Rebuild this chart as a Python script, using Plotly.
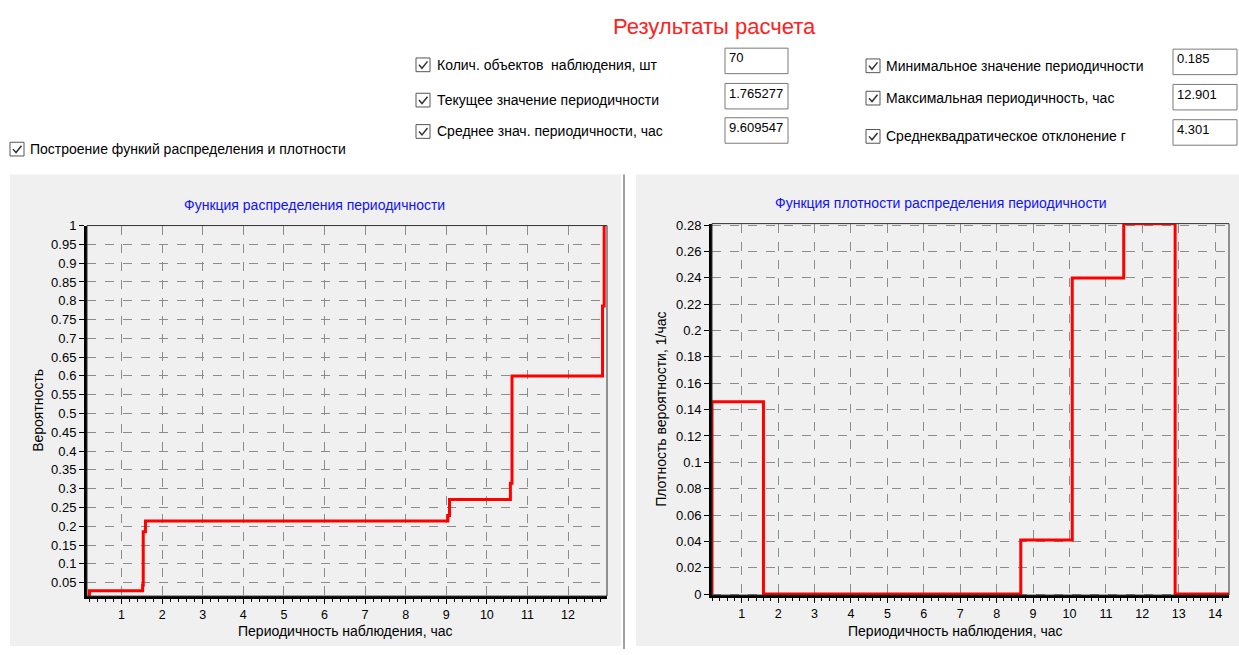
import plotly.graph_objects as go

W, H = 1239, 655

# Empirical distribution function (step points)
cdf_x = [0.185, 0.21, 1.52, 1.535, 1.59, 9.04, 9.08, 10.58, 10.62, 12.85, 12.89, 12.901]
cdf_y = [0.0143, 0.0286, 0.0429, 0.1857, 0.2143, 0.2286, 0.2714, 0.3143, 0.6, 0.7857, 1.0, 1.0]

# Histogram density (bin edges and heights)
bin_edges = [0.185, 1.598, 3.011, 4.424, 5.837, 7.250, 8.663, 10.076, 11.489, 12.901, 14.38]
density = [0.146, 0.0, 0.0, 0.0, 0.0, 0.0, 0.041, 0.240, 0.281, 0.0]

cdf_yticks = [0.05, 0.1, 0.15, 0.2, 0.25, 0.3, 0.35, 0.4, 0.45, 0.5, 0.55, 0.6, 0.65,
              0.7, 0.75, 0.8, 0.85, 0.9, 0.95, 1.0]
cdf_yticklabels = ["0.05", "0.1", "0.15", "0.2", "0.25", "0.3", "0.35", "0.4", "0.45", "0.5",
                   "0.55", "0.6", "0.65", "0.7", "0.75", "0.8", "0.85", "0.9", "0.95", "1"]
pdf_yticks = [0, 0.02, 0.04, 0.06, 0.08, 0.1, 0.12, 0.14, 0.16, 0.18, 0.2, 0.22, 0.24, 0.26, 0.28]
pdf_yticklabels = ["0", "0.02", "0.04", "0.06", "0.08", "0.1", "0.12", "0.14", "0.16", "0.18",
                   "0.2", "0.22", "0.24", "0.26", "0.28"]
cdf_xticks = list(range(1, 13))
pdf_xticks = list(range(1, 15))

# Summary fields: (label, value)
left_fields = [("Колич. объектов  наблюдения, шт", "70"),
               ("Текущее значение периодичности", "1.765277"),
               ("Среднее знач. периодичности, час", "9.609547")]
right_fields = [("Минимальное значение периодичности", "0.185"),
                ("Максимальная периодичность, час", "12.901"),
                ("Среднеквадратическое отклонение г", "4.301")]


def px(x):
    return x / W


def py(y):
    return 1 - y / H


FONT = "Liberation Sans, Arial, sans-serif"

# density as a closed step outline starting from zero
pdf_x = [bin_edges[0]] + bin_edges
pdf_y = [0.0] + density + [0.0]

fig = go.Figure()
fig.add_trace(go.Scatter(x=cdf_x, y=cdf_y, mode="lines", line=dict(color="#FF0000", width=3, shape="hv"),
                         xaxis="x", yaxis="y", showlegend=False, hoverinfo="x+y"))
fig.add_trace(go.Scatter(x=pdf_x, y=pdf_y, mode="lines", line=dict(color="#FF0000", width=3, shape="hv"),
                         xaxis="x2", yaxis="y2", showlegend=False, hoverinfo="x+y"))

# plot areas in pixels
L = dict(x0=87, x1=607, y0=223, y1=601)
R = dict(x0=712, x1=1229, y0=221, y1=600)

axis_common = dict(showgrid=True, gridcolor="#8C8C8C", griddash="dash", gridwidth=1,
                   showline=True, linecolor="black", linewidth=3, ticks="outside",
                   ticklen=5, tickcolor="black", zeroline=False)
yfont = dict(family=FONT, size=13, color="black")
xfont = dict(family=FONT, size=12.5, color="black")
xminor = dict(ticks="outside", ticklen=3, tickcolor="black", dtick=0.2, showgrid=False)

fig.update_layout(
    width=W, height=H, autosize=False,
    margin=dict(l=0, r=0, t=0, b=0),
    paper_bgcolor="white", plot_bgcolor="#F0F0F0",
    font=dict(family=FONT, size=13, color="black"),
    xaxis=dict(domain=[px(L["x0"]), px(L["x1"])], range=[0.15, 12.96], anchor="y",
               tickvals=cdf_xticks, minor=xminor, tickfont=xfont, **axis_common),
    yaxis=dict(domain=[py(L["y1"]), py(L["y0"])], range=[0.0143, 1.0], anchor="x",
               tickvals=cdf_yticks, ticktext=cdf_yticklabels, tickfont=yfont, **axis_common),
    xaxis2=dict(domain=[px(R["x0"]), px(R["x1"])], range=[0.185, 14.38], anchor="y2",
                tickvals=pdf_xticks, minor=xminor, tickfont=xfont, **axis_common),
    yaxis2=dict(domain=[py(R["y1"]), py(R["y0"])], range=[-0.0008, 0.2812], anchor="x2",
                tickvals=pdf_yticks, ticktext=pdf_yticklabels, tickfont=yfont, **axis_common),
)

shapes = []
annotations = []

# chart panels
shapes.append(dict(type="rect", xref="paper", yref="paper", x0=px(10), x1=px(621), y0=py(652), y1=py(171),
                   fillcolor="#F0F0F0", line=dict(width=0), layer="below"))
shapes.append(dict(type="rect", xref="paper", yref="paper", x0=px(636), x1=px(1239), y0=py(652), y1=py(171),
                   fillcolor="#F0F0F0", line=dict(width=0), layer="below"))
shapes.append(dict(type="line", xref="paper", yref="paper", x0=px(624), x1=px(624), y0=py(655), y1=py(171),
                   line=dict(color="#A0A0A0", width=2)))

# thin frame on top/right of each plot
for P in (L, R):
    shapes.append(dict(type="rect", xref="paper", yref="paper", x0=px(P["x0"]), x1=px(P["x1"]),
                       y0=py(P["y1"]), y1=py(P["y0"]), line=dict(color="#303030", width=1)))


def checkbox(x, y):
    shapes.append(dict(type="rect", xref="paper", yref="paper", x0=px(x), x1=px(x + 14),
                       y0=py(y + 14), y1=py(y), fillcolor="white", line=dict(color="#555555", width=1)))
    path = "M {},{} L {},{} L {},{}".format(px(x + 3), py(y + 7), px(x + 6), py(y + 10.5),
                                            px(x + 11.5), py(y + 3.5))
    shapes.append(dict(type="path", xref="paper", yref="paper", path=path,
                       line=dict(color="#333333", width=1.5)))


def text(x, y, s, size=14, color="black", xanchor="left", angle=0):
    annotations.append(dict(x=px(x), y=py(y), xref="paper", yref="paper", text=s, showarrow=False,
                            xanchor=xanchor, yanchor="middle", textangle=angle, borderpad=0,
                            font=dict(family=FONT, size=size, color=color)))


def textbox(x0, y0, x1, y1, s):
    shapes.append(dict(type="rect", xref="paper", yref="paper", x0=px(x0), x1=px(x1), y0=py(y1), y1=py(y0),
                       fillcolor="white", line=dict(color="#7A7A7A", width=1)))
    text(x0 + 3, y0 + 10, s, size=13)


# header
text(714, 20, "Результаты расчета", size=22, color="#FF2020", xanchor="center")

for i, (lab, val) in enumerate(left_fields):
    cy = [59, 95, 127][i]
    checkbox(416, cy - 7)
    text(436, cy, lab)
    by = [42, 78, 113][i]
    textbox(725, by, 788, by + 26, val)

for i, (lab, val) in enumerate(right_fields):
    cy = [60, 93, 132][i]
    checkbox(866, cy - 7)
    text(885, cy, lab)
    by = [43, 79, 115][i]
    textbox(1173, by, 1237, by + 26, val)

checkbox(10, 138)
text(29, 145, "Построение функий распределения и плотности")

# chart titles and axis titles
text(314, 202, "Функция распределения периодичности", size=14, color="#1010FF", xanchor="center")
text(941, 200, "Функция плотности распределения периодичности", size=14, color="#1010FF", xanchor="center")
text(345, 637, "Периодичность наблюдения, час", size=14, xanchor="center")
text(955, 637, "Периодичность наблюдения, час", size=14, xanchor="center")
text(38, 412, "Вероятность", size=14, xanchor="center", angle=-90)
text(661, 411, "Плотность вероятности, 1/час", size=14, xanchor="center", angle=-90)

fig.update_layout(shapes=shapes, annotations=annotations)
fig.write_html("out.html")
